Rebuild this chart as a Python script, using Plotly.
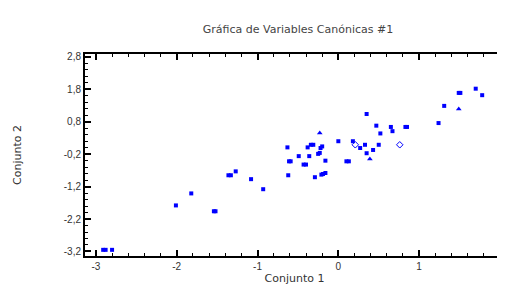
import plotly.graph_objects as go

# Data
sq_x = [-2.91, -2.88, -2.80, -2.01, -1.82, -1.54, -1.52, -1.36, -1.33, -1.27, -1.08, -0.93,
        -0.63, -0.61, -0.59, -0.62, -0.49, -0.43, -0.40, -0.38, -0.36, -0.34, -0.31, -0.29,
        -0.20, -0.22, -0.23, -0.25, -0.16, -0.21, -0.19, -0.16,
        0.00, 0.10, 0.13, 0.18, 0.27, 0.33, 0.35, 0.35, 0.43, 0.47, 0.50, 0.52, 0.65, 0.67,
        0.83, 0.85, 1.24, 1.31, 1.49, 1.51, 1.70, 1.78]
sq_y = [-3.15, -3.15, -3.15, -1.78, -1.41, -1.96, -1.96, -0.85, -0.85, -0.73, -0.97, -1.28,
        0.01, -0.42, -0.42, -0.85, -0.26, -0.52, -0.52, 0.01, -0.26, 0.09, 0.09, -0.91,
        0.04, -0.01, -0.16, -0.19, -0.40, -0.83, -0.81, -0.78,
        0.20, -0.42, -0.42, 0.20, -0.01, 0.09, 1.04, -0.17, -0.07, 0.68, 0.09, 0.44, 0.64, 0.51,
        0.64, 0.64, 0.76, 1.29, 1.69, 1.69, 1.82, 1.62]
tri_x = [-0.23, 0.39, 1.49]
tri_y = [0.45, -0.35, 1.19]
dia_x = [0.21, 0.76]
dia_y = [0.09, 0.09]

x_ticks = [-3, -2, -1, 0, 1, 2]
x_ticktext = ["-3", "-2", "-1", "0", "1", "2"]
y_ticks = [2.8, 1.8, 0.8, -0.2, -1.2, -2.2, -3.2]
y_ticktext = ["2,8", "1,8", "0,8", "-0,2", "-1,2", "-2,2", "-3,2"]

title_text = "Gráfica de Variables Canónicas #1"
x_title = "Conjunto 1"
y_title = "Conjunto 2"

BLUE = "#0000FF"
FONT = "Liberation Sans, Arial, sans-serif"
TFONT = "DejaVu Sans, sans-serif"

fig = go.Figure()
fig.add_trace(go.Scatter(x=sq_x, y=sq_y, mode="markers",
                         marker=dict(symbol="square", size=4, color=BLUE, line=dict(width=0))))
fig.add_trace(go.Scatter(x=tri_x, y=tri_y, mode="markers",
                         marker=dict(symbol="triangle-up", size=5, color=BLUE, line=dict(width=0))))
fig.add_trace(go.Scatter(x=dia_x, y=dia_y, mode="markers",
                         marker=dict(symbol="diamond-open", size=5, color=BLUE, line=dict(width=1))))

axis_common = dict(
    showgrid=False, zeroline=False, showline=True, linecolor="black", linewidth=2,
    mirror="ticks", ticks="inside", ticklen=6, tickwidth=1.5, tickcolor="black",
    tickfont=dict(family=FONT, size=10, color="#333333"),
)

fig.update_layout(
    width=505, height=287,
    margin=dict(l=77, r=7, t=46, b=39),
    paper_bgcolor="white", plot_bgcolor="white",
    showlegend=False,
    title=dict(text=title_text, x=290 / 505, xanchor="center", y=1 - 21 / 287, yanchor="middle",
               xref="container", yref="container",
               font=dict(family=TFONT, size=11, color="#444444")),
    xaxis=dict(range=[-3.135, 2.05], tickvals=x_ticks, ticktext=x_ticktext,
               title=dict(text=x_title, standoff=3, font=dict(family=TFONT, size=11, color="#333333")),
               minor=dict(ticks="inside", ticklen=3, tickwidth=1, tickcolor="black", dtick=0.2, tick0=0),
               **axis_common),
    yaxis=dict(range=[-3.34, 2.89], tickvals=y_ticks, ticktext=y_ticktext,
               title=dict(text=y_title, standoff=40, font=dict(family=TFONT, size=11, color="#333333")),
               minor=dict(ticks="inside", ticklen=3, tickwidth=1, tickcolor="black", dtick=0.2, tick0=0.8),
               **axis_common),
)

fig.write_html("out.html")
